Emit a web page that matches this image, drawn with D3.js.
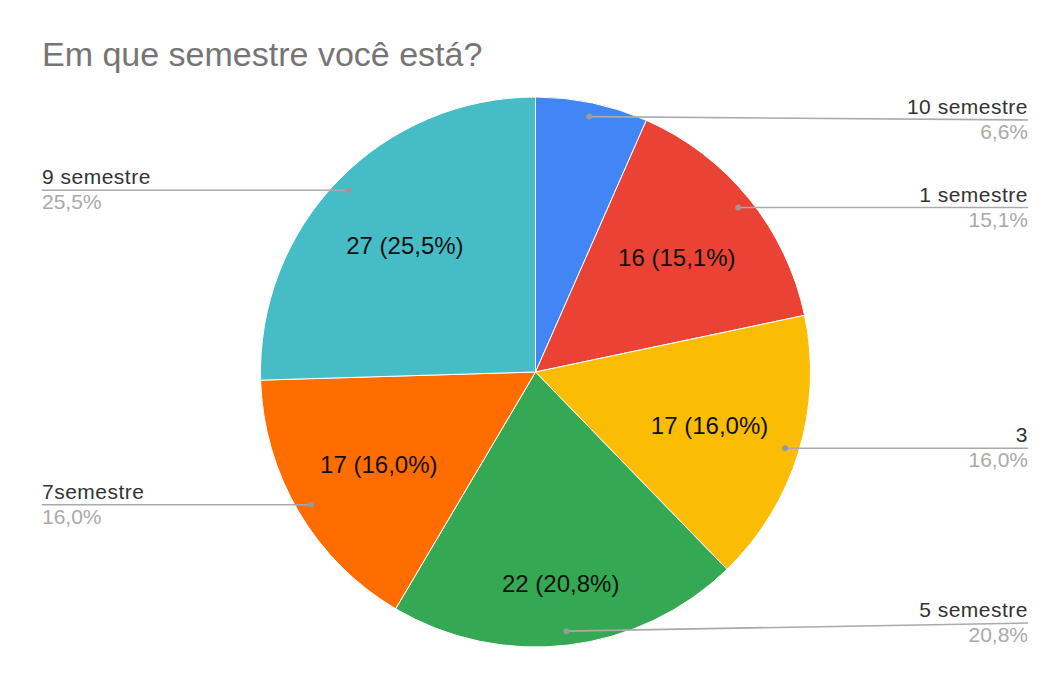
<!DOCTYPE html>
<html>

<head>
    <meta charset="utf-8">
    <title>Em que semestre você está?</title>
    <script type='text/javascript' src='https://cdn.jsdelivr.net/npm/d3@7'></script>
    <style>
        body { margin: 0; background: #fff; }
        text { font-family: Arial, "Liberation Sans", sans-serif; }
    </style>
</head>

<body>
</body>
<script type='text/javascript'>
    var w = 1053
    var h = 679

    // data
    var categories = ["10 semestre", "1 semestre", "3", "5 semestre", "7semestre", "9 semestre"];
    var counts = [7, 16, 17, 22, 17, 27];
    var colors = ["#4285F4", "#EA4335", "#FBBC04", "#34A853", "#FF6D01", "#46BDC6"];

    var total = d3.sum(counts)
    var fmt = function(v) {
        return (v / total * 100).toFixed(1).replace(".", ",") + "%"
    }

    var cx = 535.5, cy = 372, r = 275
    var leftX = 42, rightX = 1028

    var svg = d3.select('body')
        .append('svg')
        .attr('width', w)
        .attr('height', h)

    svg.append("text")
        .attr("x", 42)
        .attr("y", 66)
        .attr("font-size", "34px")
        .attr("fill", "#757575")
        .text("Em que semestre você está?")

    var data = categories.map(function(c, i) {
        return { name: c, value: counts[i], color: colors[i] }
    })

    var pie = d3.pie().sort(null).value(function(d) { return d.value })
    var arcs = pie(data)
    var arc = d3.arc().innerRadius(0).outerRadius(r)
    var dotArc = d3.arc().innerRadius(261).outerRadius(261)
    var labelArc = d3.arc().innerRadius(182).outerRadius(182)

    var g = svg.append("g").attr("transform", "translate(" + cx + "," + cy + ")")

    g.selectAll("path.slice")
        .data(arcs)
        .enter()
        .append("path")
        .attr("class", "slice")
        .attr("d", arc)
        .attr("fill", function(d) { return d.data.color })
        .attr("stroke", "#fff")
        .attr("stroke-width", 1)

    // value labels inside slices (small slices get none)
    g.selectAll("text.inner")
        .data(arcs.filter(function(d) { return d.endAngle - d.startAngle > 0.5 }))
        .enter()
        .append("text")
        .attr("class", "inner")
        .attr("transform", function(d) {
            var c = labelArc.centroid(d)
            var mid = (d.startAngle + d.endAngle) / 2
            // push labels near the bottom a bit further out
            var extra = Math.max(0, -Math.cos(mid) - 0.8) * 160
            var a = mid
            return "translate(" + (c[0] + Math.sin(a) * extra) + "," + (c[1] - Math.cos(a) * extra) + ")"
        })
        .attr("dy", "0.35em")
        .attr("text-anchor", "middle")
        .attr("font-size", "24px")
        .attr("fill", "#111")
        .text(function(d) { return d.data.value + " (" + fmt(d.data.value) + ")" })

    // leader lines and outside labels
    var outer = svg.append("g")
    arcs.forEach(function(d) {
        var p = dotArc.centroid(d)
        var px = cx + p[0], py = cy + p[1]
        var mid = (d.startAngle + d.endAngle) / 2
        var right = mid < Math.PI
        var ly = Math.max(120, Math.min(623, py))
        var ex = right ? rightX : leftX

        outer.append("line")
            .attr("x1", px).attr("y1", py)
            .attr("x2", ex).attr("y2", ly)
            .attr("stroke", "#aaa")
            .attr("stroke-width", 1.6)
        outer.append("circle")
            .attr("cx", px).attr("cy", py)
            .attr("r", 3)
            .attr("fill", "#999")

        outer.append("text")
            .attr("x", ex)
            .attr("y", ly - 6)
            .attr("text-anchor", right ? "end" : "start")
            .attr("font-size", "21px")
            .attr("letter-spacing", "0.5px")
            .attr("fill", "#333")
            .text(d.data.name)
        outer.append("text")
            .attr("x", ex)
            .attr("y", ly + 19)
            .attr("text-anchor", right ? "end" : "start")
            .attr("font-size", "21px")
            .attr("fill", "#aaa")
            .text(fmt(d.data.value))
    })
</script>

</html>
